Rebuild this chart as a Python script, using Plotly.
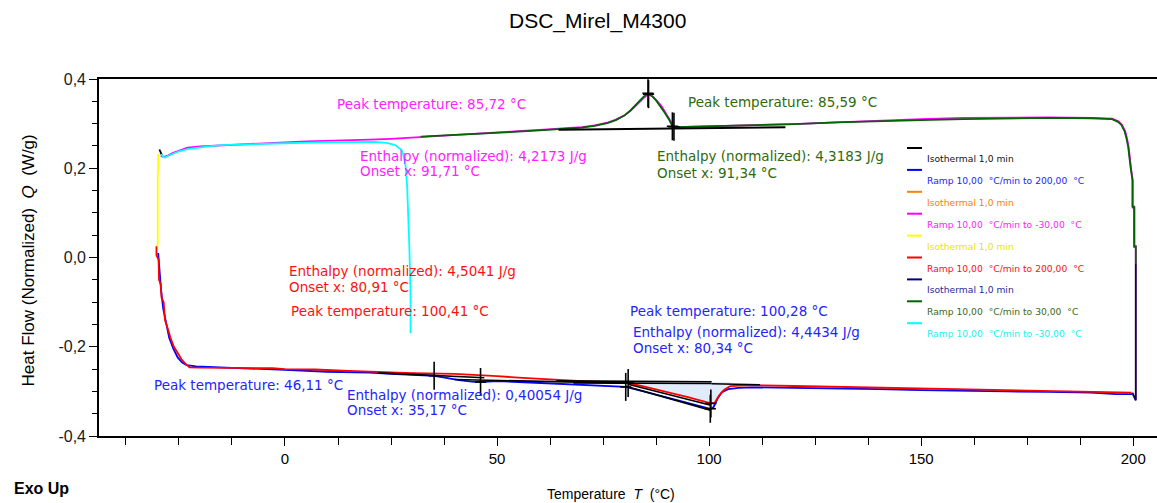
import plotly.graph_objects as go

# ---------------- data: DSC heat flow (W/g) vs temperature (°C) ----------------
# segment 1: isothermal 1,0 min
iso1_T = [-29.6, -29.3, -29.0]
iso1_Q = [0.242, 0.234, 0.229]

# segment 2: ramp 10 °C/min to 200 °C (1st heating)
heat1_T = [-29.9, -29.6, -29.2, -28.7, -28.1, -27.3, -26.3, -25.3, -24.3, -23.2, -21.0, -15.0, -8.0,
           0.0, 10.0, 20.0, 25.0, 30.0, 35.17, 38.0, 41.0, 44.0, 46.11, 48.0, 50.0, 55.0, 60.0,
           65.0, 70.0, 75.0, 80.34, 85.0, 90.0, 95.0, 100.28, 101.0, 102.0, 103.0, 104.5, 107.0,
           110.0, 120.0, 130.0, 140.0, 150.0, 160.0, 170.0, 180.0, 190.0, 196.0, 199.8]
heat1_Q = [0.010, -0.030, -0.075, -0.115, -0.145, -0.180, -0.205, -0.224, -0.235, -0.241, -0.244, -0.246, -0.250,
           -0.252, -0.256, -0.258, -0.261, -0.263, -0.265, -0.270, -0.275, -0.278, -0.279, -0.278, -0.277, -0.279, -0.281,
           -0.284, -0.286, -0.288, -0.290, -0.301, -0.314, -0.326, -0.339, -0.336, -0.316, -0.302, -0.295, -0.292,
           -0.291, -0.292, -0.293, -0.295, -0.297, -0.299, -0.300, -0.301, -0.303, -0.306, -0.306]

# segment 3: isothermal 1,0 min (200 °C)
iso2_T = [199.8, 200.6, 200.6]
iso2_Q = [-0.306, -0.320, -0.013]

# segment 4: ramp 10 °C/min to -30 °C (1st cooling)
cool1_T = [200.6, 200.6, 200.3, 200.3, 199.9, 199.9, 199.5, 199.2, 198.9, 198.5, 198.1, 197.3, 196.5,
           195.0, 190.0, 180.0, 170.0, 160.0, 150.0, 140.0, 130.0, 120.0, 110.0, 100.0, 95.0, 92.2,
           91.71, 90.8, 89.8, 88.8, 87.7, 86.7, 85.72, 84.6, 83.1, 81.6, 80.0, 78.0, 76.0, 73.0, 70.0,
           66.0, 60.0, 55.0, 50.0, 45.0, 40.0, 35.0, 30.0, 25.0, 20.0, 15.0, 10.0, 5.0, 0.0, -5.0, -10.0,
           -15.0, -20.0, -23.0, -25.0, -26.5, -27.5, -28.3, -28.9, -29.3]
cool1_Q = [-0.013, 0.026, 0.026, 0.112, 0.112, 0.172, 0.198, 0.225, 0.249, 0.268, 0.283, 0.298, 0.305,
           0.311, 0.313, 0.314, 0.314, 0.313, 0.310, 0.307, 0.303, 0.299, 0.296, 0.293, 0.292, 0.292,
           0.293, 0.308, 0.324, 0.339, 0.351, 0.361, 0.366, 0.358, 0.344, 0.330, 0.318, 0.309, 0.302, 0.296, 0.292,
           0.289, 0.286, 0.283, 0.280, 0.278, 0.275, 0.272, 0.268, 0.266, 0.264, 0.263, 0.262, 0.260, 0.258,
           0.256, 0.254, 0.252, 0.249, 0.246, 0.240, 0.234, 0.229, 0.226, 0.226, 0.228]

# segment 5: isothermal 1,0 min (-30 °C)
iso3_T = [-29.8, -29.9, -29.9, -30.0, -30.0, -30.2]
iso3_Q = [0.233, 0.220, 0.196, 0.190, 0.030, 0.025]

# segment 6: ramp 10 °C/min to 200 °C (2nd heating)
heat2_T = [-30.3, -30.3, -29.8, -29.7, -29.3, -29.1, -28.6, -28.3, -27.6, -27.0, -26.2, -25.3, -24.4,
           -23.5, -22.5, -20.0, -10.0, -3.0, 0.0, 7.0, 15.0, 22.0, 30.0, 40.0, 45.0, 50.0, 55.0, 60.0,
           65.0, 70.0, 75.0, 80.91, 85.0, 90.0, 95.0, 100.41, 101.3, 102.3, 103.5, 105.0, 108.0, 110.0,
           120.0, 130.0, 140.0, 150.0, 160.0, 170.0, 180.0, 190.0, 198.0, 199.6]
heat2_Q = [0.025, 0.005, -0.005, -0.050, -0.060, -0.090, -0.100, -0.140, -0.160, -0.180, -0.200, -0.215, -0.228,
           -0.238, -0.246, -0.247, -0.247, -0.248, -0.250, -0.251, -0.254, -0.257, -0.259, -0.261, -0.263, -0.266, -0.269, -0.272,
           -0.275, -0.277, -0.279, -0.281, -0.290, -0.301, -0.313, -0.327, -0.326, -0.310, -0.297, -0.288, -0.286, -0.286,
           -0.288, -0.290, -0.292, -0.294, -0.296, -0.298, -0.300, -0.301, -0.302, -0.303]

# segment 7: isothermal 1,0 min (200 °C)
iso4_T = [199.8, 200.6, 200.6]
iso4_Q = [-0.303, -0.320, -0.013]

# segment 8: ramp 10 °C/min to 30 °C (2nd cooling)
cool2_T = [200.6, 200.6, 200.2, 200.2, 199.8, 199.8, 199.4, 199.1, 198.8, 198.4, 198.0, 197.2, 196.4,
           195.0, 190.0, 180.0, 170.0, 160.0, 150.0, 140.0, 130.0, 120.0, 110.0, 100.0, 95.0, 92.0,
           91.34, 90.5, 89.5, 88.5, 87.5, 86.5, 85.59, 84.5, 83.0, 81.5, 80.0, 78.0, 76.0, 73.0, 70.0,
           66.0, 60.0, 55.0, 50.0, 45.0, 40.0, 36.0, 32.0]
cool2_Q = [-0.013, 0.024, 0.024, 0.114, 0.114, 0.174, 0.200, 0.226, 0.248, 0.267, 0.282, 0.297, 0.304,
           0.310, 0.312, 0.313, 0.312, 0.310, 0.308, 0.306, 0.303, 0.299, 0.296, 0.293, 0.292, 0.292,
           0.294, 0.310, 0.325, 0.340, 0.352, 0.362, 0.368, 0.360, 0.345, 0.330, 0.318, 0.308, 0.301, 0.295, 0.291,
           0.288, 0.285, 0.282, 0.279, 0.277, 0.275, 0.273, 0.271]

# segment 9: ramp 10 °C/min to -30 °C (3rd cooling)
cool3_T = [29.6, 29.6, 29.3, 29.1, 28.8, 28.4, 27.6, 26.0, 24.0, 21.0, 15.0, 8.0, 0.0, -5.0, -10.0,
           -15.0, -18.0, -21.0, -23.0, -25.0, -26.5, -27.5, -28.3, -28.8, -29.1]
cool3_Q = [-0.170, -0.075, 0.030, 0.100, 0.160, 0.210, 0.240, 0.252, 0.257, 0.259, 0.259, 0.258, 0.256,
           0.255, 0.254, 0.252, 0.249, 0.246, 0.243, 0.238, 0.233, 0.228, 0.224, 0.226, 0.232]

segment_labels = ["Isothermal 1,0 min",
                  "Ramp 10,00\u00a0 °C/min to 200,00\u00a0 °C",
                  "Isothermal 1,0 min",
                  "Ramp 10,00\u00a0 °C/min to -30,00\u00a0 °C",
                  "Isothermal 1,0 min",
                  "Ramp 10,00\u00a0 °C/min to 200,00\u00a0 °C",
                  "Isothermal 1,0 min",
                  "Ramp 10,00\u00a0 °C/min to 30,00\u00a0 °C",
                  "Ramp 10,00\u00a0 °C/min to -30,00\u00a0 °C"]
segment_colors = ["#000000", "#0000FF", "#FF8000", "#FF00FF", "#FFFF00",
                  "#FF0000", "#00008B", "#006400", "#00FFFF"]
label_colors = ["#111111", "#2222FF", "#FF8000", "#FF22FF", "#E6E600",
                "#FF1010", "#2A2A90", "#3C6A12", "#22F0F0"]

# evaluation results (peak / onset in °C, enthalpy in J/g)
peaks = {"cool1": 85.72, "cool2": 85.59, "heat2": 100.41, "heat1": 100.28, "heat1_small": 46.11}
onsets = {"cool1": 91.71, "cool2": 91.34, "heat2": 80.91, "heat1": 80.34, "heat1_small": 35.17}
enthalpy = {"cool1": "4,2173", "cool2": "4,3183", "heat2": "4,5041", "heat1": "4,4434", "heat1_small": "0,40054"}

# integration baselines
base_top_T = [64.5, 118.0]
base_top_Q = [0.2860, 0.2920]
base_small_T = [[22.0, 47.0], [40.0, 80.0]]
base_small_Q = [[-0.2585, -0.2695], [-0.2735, -0.2815]]
base_melt_T = [[64.0, 100.6], [68.0, 100.6], [100.6, 112.0], [80.91, 100.41], [80.34, 100.28]]
base_melt_Q = [[-0.2765, -0.2785], [-0.2810, -0.2825], [-0.2830, -0.2850], [-0.2840, -0.3310], [-0.2885, -0.3420]]

x_tickvals = [0, 50, 100, 150, 200]
x_ticktext = ["0", "50", "100", "150", "200"]
y_tickvals = [-0.4, -0.2, 0.0, 0.2, 0.4]
y_ticktext = ["-0,4", "-0,2", "0,0", "0,2", "0,4"]

# ---------------- figure ----------------
W, H = 1157, 503
ML, MR, MT, MB = 99, 0, 79, 67
PW, PH = W - ML - MR, H - MT - MB


def px_x(p):
    return (p - ML) / PW


def px_y(p):
    return (H - MB - p) / PH


fig = go.Figure()

# shaded melting area between baseline and 2nd-heating curve
fill_T = [t for t in heat2_T if onsets["heat2"] <= t <= 105.0]
fill_Q = [q for t, q in zip(heat2_T, heat2_Q) if onsets["heat2"] <= t <= 105.0]
fig.add_trace(go.Scatter(x=fill_T + [105.0, onsets["heat2"]], y=fill_Q + [-0.279, -0.2775],
                         fill="toself", fillcolor="rgba(214,230,250,0.75)", mode="none",
                         hoverinfo="skip", showlegend=False))

segments = [(iso1_T, iso1_Q), (heat1_T, heat1_Q), (iso2_T, iso2_Q), (cool1_T, cool1_Q),
            (iso3_T, iso3_Q), (heat2_T, heat2_Q), (iso4_T, iso4_Q), (cool2_T, cool2_Q),
            (cool3_T, cool3_Q)]
for (tx, qy), col, name in zip(segments, segment_colors, segment_labels):
    fig.add_trace(go.Scatter(x=tx, y=qy, mode="lines", name=name,
                             line=dict(color=col, width=1.8), hoverinfo="skip", showlegend=False))

# integration baselines
blk = dict(color="#000000", width=1.6)
fig.add_trace(go.Scatter(x=base_top_T, y=base_top_Q, mode="lines", line=dict(color="#000000", width=2.0),
                         hoverinfo="skip", showlegend=False))
for tx, qy in zip(base_small_T + base_melt_T, base_small_Q + base_melt_Q):
    fig.add_trace(go.Scatter(x=tx, y=qy, mode="lines", line=blk, hoverinfo="skip", showlegend=False))


def curve_value(tx, qy, t):
    for i in range(len(tx) - 1):
        a, b = tx[i], tx[i + 1]
        if min(a, b) <= t <= max(a, b) and a != b:
            return qy[i] + (qy[i + 1] - qy[i]) * (t - a) / (b - a)
    return None


# peak / onset cross markers
mark_T, mark_Q = [], []
for key, (tx, qy) in {"cool1": (cool1_T, cool1_Q), "cool2": (cool2_T, cool2_Q),
                      "heat2": (heat2_T, heat2_Q), "heat1": (heat1_T, heat1_Q),
                      "heat1_small": (heat1_T, heat1_Q)}.items():
    for t in (peaks[key], onsets[key]):
        v = curve_value(tx, qy, t)
        if v is not None:
            mark_T.append(t)
            mark_Q.append(v)
fig.add_trace(go.Scatter(x=mark_T, y=mark_Q, mode="markers",
                         marker=dict(symbol="line-ns", size=20, line=dict(color="#000000", width=1.6)),
                         hoverinfo="skip", showlegend=False))
fig.add_trace(go.Scatter(x=mark_T, y=mark_Q, mode="markers",
                         marker=dict(symbol="line-ew", size=8, line=dict(color="#000000", width=1.6)),
                         hoverinfo="skip", showlegend=False))

ann_font = "DejaVu Sans, Verdana, sans-serif"
MAG, GRN, RED, BLU = "#FF22FF", "#2F6A0C", "#FF1010", "#2424FF"


def fmt(v):
    return f"{v:.2f}".replace(".", ",")


notes = [
    (11.8, 0.344, f"Peak temperature: {fmt(peaks['cool1'])} °C", MAG),
    (17.2, 0.2275, f"Enthalpy (normalized): {enthalpy['cool1']} J/g", MAG),
    (17.2, 0.193, f"Onset x: {fmt(onsets['cool1'])} °C", MAG),
    (94.5, 0.348, f"Peak temperature: {fmt(peaks['cool2'])} °C", GRN),
    (87.2, 0.2275, f"Enthalpy (normalized): {enthalpy['cool2']} J/g", GRN),
    (87.2, 0.189, f"Onset x: {fmt(onsets['cool2'])} °C", GRN),
    (0.5, -0.030, f"Enthalpy (normalized): {enthalpy['heat2']} J/g", RED),
    (0.5, -0.066, f"Onset x: {fmt(onsets['heat2'])} °C", RED),
    (0.9, -0.120, f"Peak temperature: {fmt(peaks['heat2'])} °C", RED),
    (80.9, -0.120, f"Peak temperature: {fmt(peaks['heat1'])} °C", BLU),
    (81.6, -0.167, f"Enthalpy (normalized): {enthalpy['heat1']} J/g", BLU),
    (81.6, -0.203, f"Onset x: {fmt(onsets['heat1'])} °C", BLU),
    (-31.4, -0.286, f"Peak temperature: {fmt(peaks['heat1_small'])} °C", BLU),
    (14.1, -0.308, f"Enthalpy (normalized): {enthalpy['heat1_small']} J/g", BLU),
    (14.1, -0.342, f"Onset x: {fmt(onsets['heat1_small'])} °C", BLU),
]
annotations = []
for tx, qy, text, col in notes:
    annotations.append(dict(x=tx, y=qy, xref="x", yref="y", text=text, showarrow=False,
                            xanchor="left", yanchor="middle",
                            font=dict(family=ann_font, size=13.5, color=col)))

# segment key inside the plot area
shapes = []
for i, (name, col, tcol) in enumerate(zip(segment_labels, segment_colors, label_colors)):
    ly = 148 + 21.9 * i
    shapes.append(dict(type="line", xref="paper", yref="paper",
                       x0=px_x(907), x1=px_x(922), y0=px_y(ly), y1=px_y(ly),
                       line=dict(color=col, width=2)))
    annotations.append(dict(x=px_x(925), y=px_y(ly + 10.5), xref="paper", yref="paper",
                            text=name, showarrow=False, xanchor="left", yanchor="middle",
                            font=dict(family=ann_font, size=9.2, color=tcol)))

sans = "Liberation Sans, Arial, sans-serif"
annotations += [
    dict(x=px_x(597), y=px_y(21), xref="paper", yref="paper", text="DSC_Mirel_M4300",
         showarrow=False, xanchor="center", yanchor="middle",
         font=dict(family=sans, size=21, color="#000000")),
    dict(x=px_x(611), y=px_y(494), xref="paper", yref="paper",
         text="Temperature\u00a0 <i>T</i>\u00a0 (°C)", showarrow=False, xanchor="center", yanchor="middle",
         font=dict(family=sans, size=14, color="#000000")),
    dict(x=px_x(27.5), y=px_y(260), xref="paper", yref="paper",
         text="Heat Flow (Normalized)\u00a0 <i>Q</i>\u00a0 (W/g)", textangle=-90, showarrow=False,
         xanchor="center", yanchor="middle",
         font=dict(family=sans, size=17, color="#000000")),
    dict(x=px_x(12), y=px_y(488), xref="paper", yref="paper", text="<b>Exo Up</b>",
         showarrow=False, xanchor="left", yanchor="middle",
         font=dict(family=sans, size=16, color="#000000")),
]

x_minor = [v * 12.5 for v in range(-3, 17) if v % 4 != 0]
y_minor = [round(-0.4 + 0.05 * k, 2) for k in range(17) if k % 4 != 0]

fig.update_layout(
    width=W, height=H,
    margin=dict(l=ML, r=MR, t=MT, b=MB, pad=0),
    paper_bgcolor="#FFFFFF", plot_bgcolor="#FFFFFF",
    showlegend=False,
    separators=",.",
    shapes=shapes,
    annotations=annotations,
    xaxis=dict(range=[-43.85, 205.6], showgrid=False, zeroline=False,
               showline=True, linecolor="#000000", linewidth=1.6, mirror=True,
               ticks="outside", ticklen=8, tickwidth=1.4, tickcolor="#000000",
               tickmode="array", tickvals=x_tickvals, ticktext=x_ticktext,
               tickfont=dict(family=sans, size=15, color="#000000"),
               minor=dict(tickmode="array", tickvals=x_minor, ticks="outside",
                          ticklen=7, tickwidth=1.2, tickcolor="#000000")),
    yaxis=dict(range=[-0.4, 0.4], showgrid=False, zeroline=False,
               showline=True, linecolor="#000000", linewidth=1.6,
               ticks="outside", ticklen=8, tickwidth=1.4, tickcolor="#000000",
               tickmode="array", tickvals=y_tickvals, ticktext=y_ticktext,
               tickfont=dict(family=sans, size=16, color="#1A1A1A"),
               minor=dict(tickmode="array", tickvals=y_minor, ticks="outside",
                          ticklen=5, tickwidth=1.2, tickcolor="#000000")),
)

fig.write_html("out.html")
